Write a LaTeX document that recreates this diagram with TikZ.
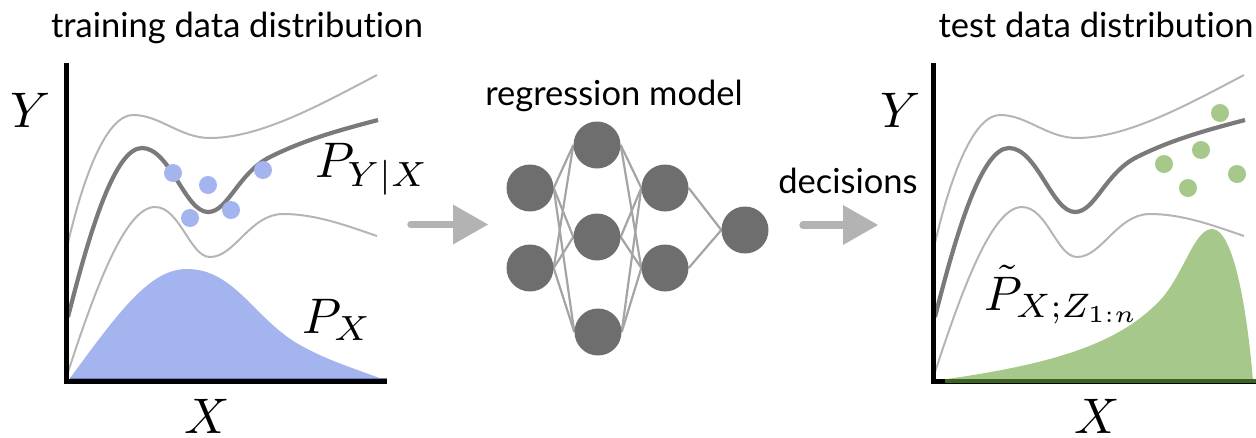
\documentclass[tikz,border=0pt]{standalone}
\usepackage{fontspec}
\setsansfont{Lato}[Ligatures={NoCommon,NoRare}]
\usetikzlibrary{arrows.meta,backgrounds}

\definecolor{bluefill}{HTML}{A4B4EE}
\definecolor{blueedge}{HTML}{6F80C4}
\definecolor{greenfill}{HTML}{A6C98B}
\definecolor{greenedge}{HTML}{3B6321}
\definecolor{meangray}{HTML}{7A7A7A}
\definecolor{bandgray}{HTML}{B5B5B5}
\definecolor{neurongray}{HTML}{6E6E6E}
\definecolor{edgegray}{HTML}{A4A4A4}
\definecolor{arrowgray}{HTML}{B3B3B3}

\begin{document}
\begin{tikzpicture}[x=1pt,y=-1pt,
  band/.style={draw=bandgray, line width=2pt},
  mean/.style={draw=meangray, line width=4.2pt},
  axisline/.style={line width=5pt, black},
  neuron/.style={circle, fill=neurongray, minimum size=47pt, inner sep=0pt},
  synapse/.style={draw=edgegray, line width=2.2pt},
  flow/.style={draw=arrowgray, line width=7.5pt, line cap=round,
    -{Triangle[length=35pt,width=40pt,line width=0pt]}},
  caption/.style={font=\sffamily\fontsize{34.5}{40}\selectfont, anchor=base, inner sep=0pt},
  mathlbl/.style={scale=5, inner sep=0pt},
  sample/.style={circle, inner sep=0pt, minimum size=18pt},
  bands/.pic={
    % upper quantile curve
    \draw[band] (68,243) .. controls (85,170) and (108,115) .. (133,115)
      .. controls (160,115) and (180,138) .. (210,138)
      .. controls (260,138) and (320,105) .. (377,75);
    % lower quantile curve
    \draw[band] (68,372) .. controls (95,290) and (125,207) .. (155,207)
      .. controls (180,207) and (190,257) .. (210,257)
      .. controls (235,257) and (250,214) .. (283,214)
      .. controls (315,214) and (345,225) .. (377,236);
    % conditional mean
    \draw[mean] (68,317) .. controls (90,230) and (115,148) .. (142,148)
      .. controls (170,148) and (185,212) .. (208,212)
      .. controls (228,212) and (238,173) .. (270,157)
      .. controls (305,139.5) and (340,130) .. (378,120);
  }
]
\useasboundingbox (0,0) rectangle (1256,437);

% ---------- training data distribution ----------
\node[caption] (traincap) at (237,37) {training data distribution};

\fill[bluefill] (68,381) .. controls (120,310) and (150,269) .. (187,269)
  .. controls (235,269) and (255,320) .. (300,345)
  .. controls (330,362) and (360,370) .. (387,381) -- cycle;
\pic at (0,0) {bands};
\foreach \cx/\cy [count=\i] in {173/173, 208/185, 263/170, 190/218, 231/210}
  \node[sample, fill=bluefill] (bd\i) at (\cx,\cy) {};
\draw[axisline] (66,63) -- (66,381) -- (387,381);
\draw[blueedge, line width=1.5pt] (70,378.5) -- (387,378.5);

\node[mathlbl] (ytrain) at (31,110) {$Y$};
\node[mathlbl] (xtrain) at (207,416) {$X$};
\node[mathlbl, anchor=base west] (pyx) at (314,177) {$P_{Y|X}$};
\node[mathlbl, anchor=base west] (px) at (301,333) {$P_X$};

% ---------- regression model ----------
\node[caption] (modelcap) at (614,105) {regression model};

\node[neuron] (i1) at (530,188) {};
\node[neuron] (i2) at (530,268) {};
\node[neuron] (h1) at (597,145) {};
\node[neuron] (h2) at (597,237) {};
\node[neuron] (h3) at (598,332) {};
\node[neuron] (g1) at (665,188) {};
\node[neuron] (g2) at (665,268) {};
\node[neuron] (o)  at (745,230) {};

\begin{pgfonlayer}{background}
  \foreach \a in {i1,i2} \foreach \b in {h1,h2,h3}
    \draw[synapse] (\a.east) -- (\b.west);
  \foreach \a in {h1,h2,h3} \foreach \b in {g1,g2}
    \draw[synapse] (\a.east) -- (\b.west);
  \foreach \a in {g1,g2}
    \draw[synapse] (\a.east) -- (o.west);
\end{pgfonlayer}

% ---------- arrows ----------
\coordinate (in0) at (411,224.5);
\coordinate (in1) at (488,224.5);
\draw[flow] (in0) -- (in1);

\node[caption] (deccap) at (848,193) {decisions};
\coordinate (out0) at (803,225);
\coordinate (out1) at (878,225);
\draw[flow] (out0) -- (out1);

% ---------- test data distribution ----------
\node[caption] (testcap) at (1096,37) {test data distribution};

\fill[greenfill] (933,381) .. controls (1050,365) and (1120,345) .. (1163,297)
  .. controls (1185,270) and (1195,229) .. (1212,229)
  .. controls (1235,229) and (1248,320) .. (1253,381) -- cycle;
\pic at (867,0) {bands};
\foreach \cx/\cy [count=\i] in {1220/113, 1201/150, 1164/164, 1237/174, 1188/188}
  \node[sample, fill=greenfill] (gd\i) at (\cx,\cy) {};
\draw[axisline] (933,63) -- (933,381) -- (1256,381);
\draw[greenedge, line width=4pt] (945,381) -- (1256,381);

\node[mathlbl] (ytest) at (901,110) {$Y$};
\node[mathlbl] (xtest) at (1097,416) {$X$};
\node[mathlbl, scale=0.97, anchor=base west] (ptilde) at (984,310) {$\tilde{P}_{X;Z_{1:n}}$};
\end{tikzpicture}
\end{document}
